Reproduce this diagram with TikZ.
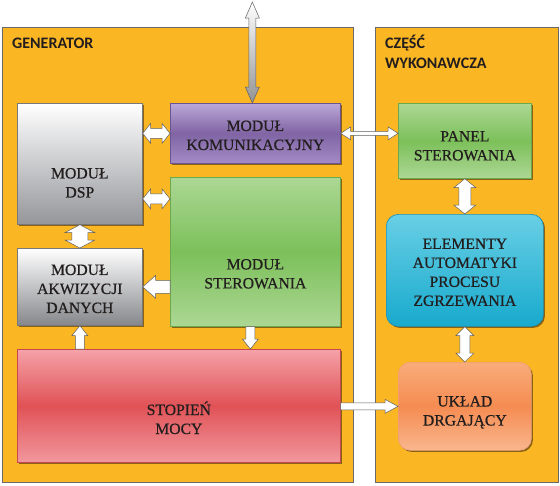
\documentclass[tikz,border=0pt]{standalone}
\usepackage{fontspec}
\setmainfont{Liberation Serif}
\newfontfamily\boxfont[FakeBold=0.6]{Liberation Serif}
\newfontfamily\titlefont{Carlito}
\usetikzlibrary{calc,shadows}

\definecolor{orangebg}{RGB}{251,182,36}
\definecolor{framegray}{RGB}{105,105,105}
\definecolor{txtdark}{RGB}{35,30,30}
\definecolor{grayB}{RGB}{148,150,154}
\definecolor{grayE}{RGB}{120,120,124}
\definecolor{purT}{RGB}{187,168,216}
\definecolor{purM}{RGB}{128,100,164}
\definecolor{purB}{RGB}{163,140,198}
\definecolor{purE}{RGB}{108,84,148}
\definecolor{grnT}{RGB}{172,215,148}
\definecolor{grnM}{RGB}{124,192,90}
\definecolor{grnE}{RGB}{108,168,78}
\definecolor{redT}{RGB}{244,162,168}
\definecolor{redM}{RGB}{224,82,86}
\definecolor{redB}{RGB}{241,152,158}
\definecolor{redE}{RGB}{198,72,78}
\definecolor{cyaT}{RGB}{104,207,229}
\definecolor{cyaB}{RGB}{24,170,205}
\definecolor{cyaE}{RGB}{28,148,184}
\definecolor{ornT}{RGB}{249,172,122}
\definecolor{ornM}{RGB}{245,140,82}
\definecolor{ornB}{RGB}{249,182,142}
\definecolor{ornE}{RGB}{238,160,120}
\definecolor{arrE}{RGB}{95,95,95}

% double block arrow: #1 style, #2 end A, #3 end B, #4 half shaft, #5 half head, #6 head length
\newcommand\dblarrow[6]{%
  \path (#2) coordinate (tmpA) (#3) coordinate (tmpB);
  \path ($(tmpA)!#6!(tmpB)$) coordinate (tmpP) ($(tmpB)!#6!(tmpA)$) coordinate (tmpQ);
  \draw[#1] (tmpA) -- ($(tmpP)!#5!90:(tmpB)$) -- ($(tmpP)!#4!90:(tmpB)$)
    -- ($(tmpQ)!#4!-90:(tmpA)$) -- ($(tmpQ)!#5!-90:(tmpA)$) -- (tmpB)
    -- ($(tmpQ)!#5!90:(tmpA)$) -- ($(tmpQ)!#4!90:(tmpA)$)
    -- ($(tmpP)!#4!-90:(tmpB)$) -- ($(tmpP)!#5!-90:(tmpB)$) -- cycle;
}
% single block arrow: tail #2, tip #3
\newcommand\sglarrow[6]{%
  \path (#2) coordinate (tmpA) (#3) coordinate (tmpB);
  \path ($(tmpB)!#6!(tmpA)$) coordinate (tmpQ);
  \draw[#1] ($(tmpA)!#4!90:(tmpB)$) -- ($(tmpQ)!#4!-90:(tmpA)$) -- ($(tmpQ)!#5!-90:(tmpA)$)
    -- (tmpB) -- ($(tmpQ)!#5!90:(tmpA)$) -- ($(tmpQ)!#4!90:(tmpA)$)
    -- ($(tmpA)!#4!-90:(tmpB)$) -- cycle;
}

\tikzset{
  container/.style={draw=framegray, line width=0.8pt, fill=orangebg, anchor=north west, inner sep=0pt},
  box/.style={line width=0.7pt, anchor=north west, inner sep=0pt,
    drop shadow={shadow xshift=1.6pt, shadow yshift=-1.6pt, opacity=0.45, fill=black}},
  txt/.style={align=center, text=txtdark, inner sep=0pt, font=\boxfont\fontsize{15.7}{19}\selectfont},
  ttl/.style={anchor=base west, text=txtdark, inner sep=0pt, font=\titlefont\bfseries\fontsize{16}{20}\selectfont},
  barrow/.style={fill=white, draw=arrE, line width=0.5pt, line join=miter},
}

\begin{document}
\begin{tikzpicture}[x=1pt,y=-1pt]
\useasboundingbox (0,0) rectangle (560,485);
\fill[white] (0,0) rectangle (560,485);

% containers
\node[container, minimum width=351pt, minimum height=455pt] (gen) at (2,27) {};
\node[container, minimum width=183pt, minimum height=455pt] (wyk) at (375,27) {};
\node[ttl] (genT) at (12,48) {GENERATOR};
\node[ttl] (wykT1) at (385,48) {CZĘŚĆ};
\node[ttl] (wykT2) at (385,68) {WYKONAWCZA};

% boxes
\node[box, draw=grayE, top color=white, bottom color=grayB,
      minimum width=125pt, minimum height=121pt] (dsp) at (17,103) {};
\node[box, draw=purE, top color=purT, bottom color=purB, middle color=purM,
      minimum width=170pt, minimum height=60pt] (kom) at (170,103) {};
\node[box, draw=grnE, top color=grnT, bottom color=grnT, middle color=grnM,
      minimum width=170pt, minimum height=149pt] (ster) at (170,177) {};
\node[box, draw=grayE, top color=white, bottom color=grayB!90!black,
      minimum width=125pt, minimum height=77pt] (akw) at (17,248) {};
\node[box, draw=redE, top color=redT, bottom color=redB, middle color=redM,
      minimum width=323pt, minimum height=113pt] (stop) at (17,349) {};
\node[box, draw=grnE, top color=grnT, bottom color=grnT, middle color=grnM,
      minimum width=133pt, minimum height=75pt] (panel) at (398,103) {};
\node[box, draw=cyaE, top color=cyaT, bottom color=cyaB, rounded corners=12pt,
      minimum width=157pt, minimum height=112pt] (elem) at (386,214) {};
\node[box, draw=ornE, top color=ornT, bottom color=ornB, middle color=ornM, rounded corners=12pt,
      minimum width=133pt, minimum height=88pt] (ukl) at (398,362) {};

% texts
\node[txt] (dspT) at ($(dsp.center)+(0,19)$) {MODUŁ\\DSP};
\node[txt] (komT) at ($(kom.center)+(0,2)$) {MODUŁ\\KOMUNIKACYJNY};
\node[txt] (sterT) at ($(ster.center)+(0,22)$) {MODUŁ\\STEROWANIA};
\node[txt] (akwT) at ($(akw.center)+(0,2)$) {MODUŁ\\AKWIZYCJI\\DANYCH};
\node[txt] (stopT) at ($(stop.center)+(0,12)$) {STOPIEŃ\\MOCY};
\node[txt] (panelT) at ($(panel.center)+(0,5)$) {PANEL\\STEROWANIA};
\node[txt] (elemT) at ($(elem.center)+(0,2)$) {ELEMENTY\\AUTOMATYKI\\PROCESU\\ZGRZEWANIA};
\node[txt] (uklT) at ($(ukl.center)+(0,6)$) {UKŁAD\\DRGAJĄCY};

% connectors
\coordinate (ext) at ($(kom.north)+(-3,-101)$);
\dblarrow{draw=arrE, line width=0.5pt, top color=white, bottom color=gray!85}{ext}{$(kom.north)+(-3,0)$}{3.5pt}{7pt}{16pt}
\dblarrow{barrow}{dsp.east |- kom.west}{kom.west}{5pt}{10pt}{8pt}
\dblarrow{barrow}{$(dsp.east)+(0,35)$}{$(ster.west |- dsp.east)+(0,35)$}{5pt}{10pt}{8pt}
\dblarrow{barrow}{dsp.south}{akw.north}{8pt}{15pt}{8pt}
\sglarrow{barrow}{ster.west |- akw.east}{akw.east}{6.5pt}{11.5pt}{13pt}
\sglarrow{barrow}{$(ster.south)+(-5,0)$}{$(ster.south |- stop.north)+(-5,0)$}{4.5pt}{8pt}{10pt}
\sglarrow{barrow}{akw.south |- stop.north}{akw.south}{4.5pt}{8pt}{10pt}
\sglarrow{barrow}{stop.east |- ukl.west}{ukl.west}{3.5pt}{7pt}{13pt}
\dblarrow{barrow}{kom.east}{panel.west |- kom.east}{2pt}{6.5pt}{10pt}
\dblarrow{barrow}{panel.south}{panel.south |- elem.north}{6pt}{11pt}{9pt}
\dblarrow{barrow}{elem.south}{ukl.north}{5pt}{9pt}{9pt}
\end{tikzpicture}
\end{document}
